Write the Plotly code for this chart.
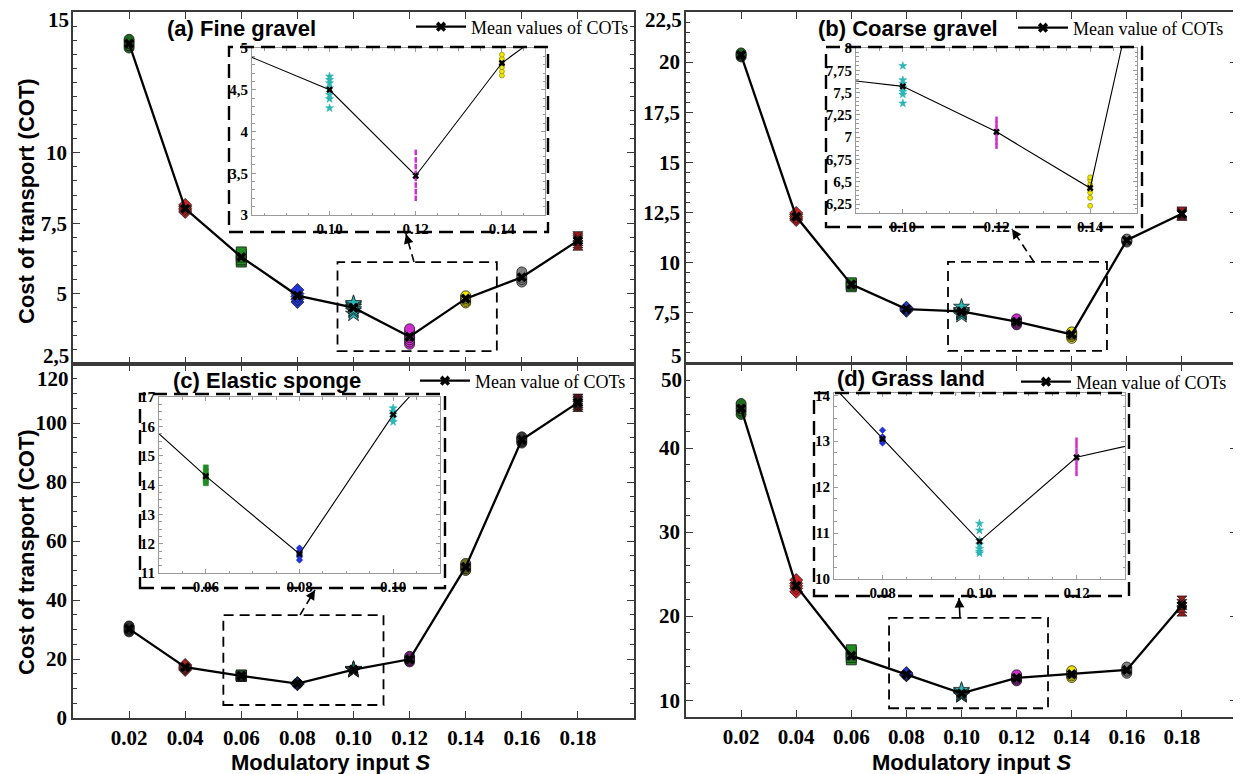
import plotly.graph_objects as go

W, H = 1241, 774          # reference picture size
OFF = 8                    # page body margin of the browser
FW, FH = W - OFF, H - OFF  # figure size so that it fills the window exactly
SERIF = "Liberation Serif, Times New Roman, serif"
SANS = "Liberation Sans, Arial, sans-serif"

# ---------------- data ----------------
S_VALUES = [0.02, 0.04, 0.06, 0.08, 0.10, 0.12, 0.14, 0.16, 0.18]
S_LABELS = ["0.02", "0.04", "0.06", "0.08", "0.10", "0.12", "0.14", "0.16", "0.18"]

# (a) Fine gravel
A_MEAN = [13.88, 8.02, 6.3, 4.93, 4.5, 3.47, 4.82, 5.58, 6.88]
A_TRIALS = [
    [13.72, 13.8, 13.88, 13.96, 14.03],
    [7.9, 7.97, 8.03, 8.1, 8.15],
    [6.12, 6.2, 6.3, 6.4, 6.48],
    [4.7, 4.8, 4.9, 5.0, 5.13],
    [4.28, 4.39, 4.44, 4.52, 4.58, 4.62, 4.66],
    [3.2, 3.28, 3.36, 3.44, 3.5, 3.58, 3.66, 3.75],
    [4.67, 4.72, 4.77, 4.82, 4.87, 4.92],
    [5.41, 5.5, 5.58, 5.67, 5.77],
    [6.72, 6.8, 6.88, 6.95, 7.02],
]
A_YTICKS = [2.5, 5, 7.5, 10, 15]
A_YTICKTEXT = ["2,5", "5", "7,5", "10", "15"]

# (b) Coarse gravel
B_MEAN = [20.35, 12.3, 8.92, 7.69, 7.57, 7.06, 6.43, 11.12, 12.44]
B_TRIALS = [
    [20.26, 20.33, 20.4, 20.46],
    [12.13, 12.22, 12.3, 12.4, 12.48],
    [8.8, 8.88, 8.95, 9.0],
    [7.6, 7.66, 7.72, 7.76],
    [7.38, 7.48, 7.51, 7.56, 7.6, 7.64, 7.8],
    [6.9, 6.95, 7.0, 7.05, 7.1, 7.15, 7.2],
    [6.23, 6.32, 6.38, 6.42, 6.47, 6.52, 6.55],
    [11.03, 11.08, 11.13, 11.18],
    [12.36, 12.42, 12.48, 12.53],
]
B_YTICKS = [5, 7.5, 10, 12.5, 15, 17.5, 20, 22.5]
B_YTICKTEXT = ["5", "7,5", "10", "12,5", "15", "17,5", "20", "22,5"]

# (c) Elastic sponge
C_MEAN = [30.2, 17.2, 14.3, 11.65, 16.4, 19.9, 51.2, 94.3, 106.9]
C_TRIALS = [
    [29.2, 29.8, 30.3, 30.8, 31.2],
    [16.3, 16.8, 17.2, 17.6, 18.0],
    [14.06, 14.15, 14.25, 14.35, 14.45, 14.6],
    [11.44, 11.55, 11.65, 11.75, 11.85],
    [16.15, 16.3, 16.4, 16.5, 16.62],
    [19.0, 19.5, 20.0, 20.4, 20.9],
    [50.0, 50.6, 51.2, 51.8, 52.4],
    [93.2, 93.8, 94.3, 94.8, 95.3],
    [105.6, 106.3, 106.9, 107.5, 108.1],
]
C_YTICKS = [0, 20, 40, 60, 80, 100, 120]
C_YTICKTEXT = ["0", "20", "40", "60", "80", "100", "120"]

# (d) Grass land
D_MEAN = [44.7, 23.6, 15.3, 13.05, 10.82, 12.65, 13.1, 13.6, 21.3]
D_TRIALS = [
    [44.0, 44.4, 44.7, 45.0, 45.3],
    [22.9, 23.3, 23.6, 23.9, 24.3],
    [14.8, 15.1, 15.4, 15.7, 16.0],
    [12.96, 13.0, 13.05, 13.1, 13.24],
    [10.56, 10.6, 10.66, 10.75, 10.84, 11.06, 11.21],
    [12.3, 12.42, 12.54, 12.66, 12.78, 12.9, 13.02],
    [12.7, 12.9, 13.1, 13.3, 13.5],
    [13.2, 13.45, 13.7, 13.95],
    [20.6, 21.0, 21.4, 21.8],
]
D_YTICKS = [10, 20, 30, 40, 50]
D_YTICKTEXT = ["10", "20", "30", "40", "50"]

# inset tick labels
IA_XTICKS = [0.10, 0.12, 0.14]
IA_XTICKTEXT = ["0.10", "0.12", "0.14"]
IA_YTICKS = [3, 3.5, 4, 4.5, 5]
IA_YTICKTEXT = ["3", "3,5", "4", "4,5", "5"]
IB_XTICKS = [0.10, 0.12, 0.14]
IB_XTICKTEXT = ["0.10", "0.12", "0.14"]
IB_YTICKS = [6.25, 6.5, 6.75, 7, 7.25, 7.5, 7.75, 8]
IB_YTICKTEXT = ["6,25", "6,5", "6,75", "7", "7,25", "7,5", "7,75", "8"]
IC_XTICKS = [0.06, 0.08, 0.10]
IC_XTICKTEXT = ["0.06", "0.08", "0.10"]
IC_YTICKS = [11, 12, 13, 14, 15, 16, 17]
IC_YTICKTEXT = ["11", "12", "13", "14", "15", "16", "17"]
ID_XTICKS = [0.08, 0.10, 0.12]
ID_XTICKTEXT = ["0.08", "0.10", "0.12"]
ID_YTICKS = [10, 11, 12, 13, 14]
ID_YTICKTEXT = ["10", "11", "12", "13", "14"]

TITLES = ["(a) Fine gravel", "(b) Coarse gravel", "(c) Elastic sponge", "(d) Grass land"]
LEGEND_NAMES = ["Mean values of COTs", "Mean value of COTs", "Mean value of COTs", "Mean value of COTs"]
Y_TITLE = "Cost of transport (COT)"
X_TITLE = "Modulatory input <i>S</i>"

# ---------------- styles ----------------
MAIN_SYMBOLS = ["circle", "diamond", "square", "diamond", "star", "circle", "circle", "circle", "hourglass"]
INSET_SYMBOLS = ["circle", "diamond", "square", "diamond", "star", "line-ns", "circle", "circle", "hourglass"]
COLORS = ["#1f6a1f", "#d42222", "#228a22", "#2233d8", "#2ab4b4", "#d22dd2", "#f0e600", "#808080", "#a31c1c"]
DARK_COLORS = ["#2e2e2e", "#a82020", "#1f4f1f", "#1c2260", "#1f6262", "#702070", "#6e6e1c", "#3a3a3a", "#4c1212"]


def px2x(p):
    return (p - OFF) / FW


def px2y(p):
    return 1 - (p - OFF) / FH


PANELS = [
    dict(mean=A_MEAN, trials=A_TRIALS, yt=A_YTICKS, ytt=A_YTICKTEXT, edge={0: 8, 4: -8},
         dom_x=(73, 634), dom_y=(12, 364), yr=[2.5, 15], minor=0.5, xlabels=False, colors=COLORS,
         in_x=(252, 545), in_y=(48, 215), in_xr=[0.082, 0.15], in_yr=[3, 5], in_xt=IA_XTICKS,
         in_xtt=IA_XTICKTEXT, in_yt=IA_YTICKS, in_ytt=IA_YTICKTEXT, in_minor_y=0.1,
         frame=(229, 47, 548, 232), zoom=(0.0943, 2.96, 0.1511, 6.12),
         arrow=((414, 262), (406, 234), True), title=(165, 28), legend=(416, 27)),
    dict(mean=B_MEAN, trials=B_TRIALS, yt=B_YTICKS, ytt=B_YTICKTEXT, edge={0: 7, 7: -8},
         dom_x=(686, 1237), dom_y=(12, 363), yr=[5, 22.5], minor=0.5, xlabels=False, colors=COLORS,
         in_x=(856, 1137), in_y=(48, 213), in_xr=[0.09, 0.15], in_yr=[6.15, 8.0], in_xt=IB_XTICKS,
         in_xtt=IB_XTICKTEXT, in_yt=IB_YTICKS, in_ytt=IB_YTICKTEXT, in_minor_y=0.05,
         frame=(826, 47, 1142, 227), zoom=(0.0951, 5.6, 0.1528, 10.04),
         arrow=((1034, 262), (1012, 229), True), title=(816, 28), legend=(1018, 28)),
    dict(mean=C_MEAN, trials=C_TRIALS, yt=C_YTICKS, ytt=C_YTICKTEXT, edge={6: -15},
         dom_x=(73, 634), dom_y=(364, 718), yr=[0, 120], minor=5, xlabels=True, colors=DARK_COLORS,
         in_x=(159, 440), in_y=(397, 573), in_xr=[0.05, 0.11], in_yr=[11, 17], in_xt=IC_XTICKS,
         in_xtt=IC_XTICKTEXT, in_yt=IC_YTICKS, in_ytt=IC_YTICKTEXT, in_minor_y=0.25,
         frame=(140, 394, 445, 588), zoom=(0.0536, 4.4, 0.1107, 34.9),
         arrow=((300, 615), (315, 590), True), title=(171, 380), legend=(420, 381)),
    dict(mean=D_MEAN, trials=D_TRIALS, yt=D_YTICKS, ytt=D_YTICKTEXT, edge={4: -16},
         dom_x=(686, 1237), dom_y=(364, 717), yr=[8, 50], minor=2, xlabels=True, colors=COLORS,
         in_x=(834, 1125), in_y=(393, 579), in_xr=[0.07, 0.13], in_yr=[10, 14.05], in_xt=ID_XTICKS,
         in_xtt=ID_XTICKTEXT, in_yt=ID_YTICKS, in_ytt=ID_YTICKTEXT, in_minor_y=0.25,
         frame=(814, 393, 1129, 596), zoom=(0.0737, 9.04, 0.1314, 19.8),
         arrow=((960, 618), (959, 598), False), title=(835, 379), legend=(1021, 382)),
]

fig = go.Figure()
layout = dict(
    width=FW, height=FH, margin=dict(l=0, r=0, t=0, b=0, autoexpand=False),
    paper_bgcolor="white", plot_bgcolor="white", hovermode=False,
)
annotations = []
shapes = []

MAIN_LINE = "#3a3a3a"
INSET_LINE = "#9a9a9a"
TICKFONT = dict(family=SERIF, size=21, color="black", weight="bold")
INSETFONT = dict(family=SERIF, size=15, color="black", weight="bold")

for i, P in enumerate(PANELS):
    n = i + 1
    m = i + 5
    xa, ya = ("x", "y") if n == 1 else (f"x{n}", f"y{n}")
    xi, yi = f"x{m}", f"y{m}"
    leg = "legend" if n == 1 else f"legend{n}"

    # main trial markers
    for k, (s, vals) in enumerate(zip(S_VALUES, P["trials"])):
        fig.add_trace(go.Scatter(
            x=[s] * len(vals), y=vals, mode="markers", xaxis=xa, yaxis=ya, showlegend=False,
            marker=dict(symbol=MAIN_SYMBOLS[k], size=12 if MAIN_SYMBOLS[k] == "star" else 10,
                        color=P["colors"][k], line=dict(color="#1a1a1a", width=0.8)),
        ))
    # main mean line
    fig.add_trace(go.Scatter(
        x=S_VALUES, y=P["mean"], mode="lines+markers", xaxis=xa, yaxis=ya,
        name=LEGEND_NAMES[i], legend=leg, showlegend=True,
        line=dict(color="black", width=2.3),
        marker=dict(symbol="x", size=9, color="black"),
    ))
    # inset trial markers
    for k, (s, vals) in enumerate(zip(S_VALUES, P["trials"])):
        sym = INSET_SYMBOLS[k]
        if sym == "line-ns":
            mk = dict(symbol=sym, size=4, line=dict(color=COLORS[k], width=2.5))
        else:
            mk = dict(symbol=sym, size=6 if sym == "star" else 5, color=COLORS[k],
                      line=dict(color="#7a7a00" if k == 6 else COLORS[k], width=0.6))
        fig.add_trace(go.Scatter(
            x=[s] * len(vals), y=vals, mode="markers", xaxis=xi, yaxis=yi,
            showlegend=False, marker=mk,
        ))
    # inset mean line
    fig.add_trace(go.Scatter(
        x=S_VALUES, y=P["mean"], mode="lines+markers", xaxis=xi, yaxis=yi, showlegend=False,
        line=dict(color="black", width=1.1), marker=dict(symbol="x", size=6, color="black"),
    ))

    # main axes
    inner_idx = [j for j in range(len(P["yt"])) if j not in P["edge"]]
    layout["xaxis" if n == 1 else f"xaxis{n}"] = dict(
        domain=[px2x(P["dom_x"][0]), px2x(P["dom_x"][1])], range=[0, 0.2], anchor=ya,
        tickmode="array", tickvals=S_VALUES, ticktext=S_LABELS, showticklabels=P["xlabels"],
        ticks="inside", ticklen=7, tickwidth=1.2, tickcolor=MAIN_LINE,
        showline=True, linecolor=MAIN_LINE, linewidth=1.6, mirror="ticks",
        showgrid=False, zeroline=False, tickfont=TICKFONT,
    )
    layout["yaxis" if n == 1 else f"yaxis{n}"] = dict(
        domain=[px2y(P["dom_y"][1]), px2y(P["dom_y"][0])], range=P["yr"], anchor=xa,
        tickmode="array", tickvals=[P["yt"][j] for j in inner_idx],
        ticktext=[P["ytt"][j] for j in inner_idx],
        ticks="inside", ticklen=7, tickwidth=1.2, tickcolor=MAIN_LINE,
        minor=dict(tickmode="linear", tick0=0, dtick=P["minor"], ticks="inside", ticklen=4,
                   tickcolor=MAIN_LINE, tickwidth=1),
        showline=True, linecolor=MAIN_LINE, linewidth=1.6, mirror="ticks",
        showgrid=False, zeroline=False, tickfont=TICKFONT,
    )
    # edge tick labels (shifted like the reference)
    for j, shift in P["edge"].items():
        annotations.append(dict(
            x=px2x(P["dom_x"][0] - 3), xref="paper", xanchor="right",
            y=P["yt"][j], yref=ya, yanchor="middle", yshift=shift,
            text=P["ytt"][j], showarrow=False, borderpad=0, font=TICKFONT,
        ))

    # inset axes
    layout[f"xaxis{m}"] = dict(
        domain=[px2x(P["in_x"][0]), px2x(P["in_x"][1])], range=P["in_xr"], anchor=yi,
        tickmode="array", tickvals=P["in_xt"], ticktext=P["in_xtt"],
        ticks="inside", ticklen=4, tickcolor=INSET_LINE,
        minor=dict(tickmode="linear", tick0=0, dtick=0.005, ticks="inside", ticklen=2.5,
                   tickcolor=INSET_LINE),
        showline=True, linecolor=INSET_LINE, linewidth=1, mirror="ticks",
        showgrid=False, zeroline=False, tickfont=INSETFONT,
    )
    layout[f"yaxis{m}"] = dict(
        domain=[px2y(P["in_y"][1]), px2y(P["in_y"][0])], range=P["in_yr"], anchor=xi,
        tickmode="array", tickvals=P["in_yt"], ticktext=P["in_ytt"],
        ticks="inside", ticklen=4, tickcolor=INSET_LINE,
        minor=dict(tickmode="linear", tick0=0, dtick=P["in_minor_y"], ticks="inside",
                   ticklen=2.5, tickcolor=INSET_LINE),
        showline=True, linecolor=INSET_LINE, linewidth=1, mirror="ticks",
        showgrid=False, zeroline=False, tickfont=INSETFONT,
    )

    # dashed frame around inset
    fx0, fy0, fx1, fy1 = P["frame"]
    shapes.append(dict(type="rect", xref="paper", yref="paper",
                       x0=px2x(fx0), x1=px2x(fx1), y0=px2y(fy1), y1=px2y(fy0),
                       line=dict(color="black", width=2.4, dash="14px,7px")))
    # dashed zoom window in data coordinates
    zx0, zy0, zx1, zy1 = P["zoom"]
    shapes.append(dict(type="rect", xref=xa, yref=ya, x0=zx0, x1=zx1, y0=zy0, y1=zy1,
                       line=dict(color="black", width=1.8, dash="10px,6px")))
    # arrow
    (sx, sy), (tx, ty), dashed = P["arrow"]
    shapes.append(dict(type="line", xref="paper", yref="paper",
                       x0=px2x(sx), y0=px2y(sy), x1=px2x(tx), y1=px2y(ty),
                       line=dict(color="black", width=1.6, dash="8px,5px" if dashed else "solid")))
    dx, dy = sx - tx, sy - ty
    L = (dx * dx + dy * dy) ** 0.5
    annotations.append(dict(
        x=px2x(tx), y=px2y(ty), xref="paper", yref="paper", text="", showarrow=True,
        ax=dx / L * 9, ay=dy / L * 9, arrowhead=2, arrowsize=1.2, arrowwidth=1.6, arrowcolor="black",
    ))

    # panel title
    annotations.append(dict(
        x=px2x(P["title"][0]), y=px2y(P["title"][1]), xref="paper", yref="paper",
        xanchor="left", yanchor="middle", text=TITLES[i], showarrow=False,
        font=dict(family=SANS, size=22, color="black", weight="bold"),
    ))

    # legend
    layout[leg] = dict(
        x=px2x(P["legend"][0] - 5), y=px2y(P["legend"][1]), xanchor="left", yanchor="middle",
        xref="paper", yref="paper", bgcolor="rgba(0,0,0,0)", borderwidth=0,
        font=dict(family=SERIF, size=18, color="black"), itemwidth=50,
    )

# axis titles
for yc in (201, 552):
    annotations.append(dict(
        x=px2x(26), y=px2y(yc), xref="paper", yref="paper", xanchor="center", yanchor="middle",
        text=Y_TITLE, textangle=-90, showarrow=False,
        font=dict(family=SANS, size=22, color="black", weight="bold"),
    ))
for xc in (331, 972):
    annotations.append(dict(
        x=px2x(xc), y=px2y(762), xref="paper", yref="paper", xanchor="center", yanchor="middle",
        text=X_TITLE, showarrow=False,
        font=dict(family=SANS, size=22, color="black", weight="bold"),
    ))

layout["annotations"] = annotations
layout["shapes"] = shapes
fig.update_layout(**layout)
fig.write_html("out.html")
